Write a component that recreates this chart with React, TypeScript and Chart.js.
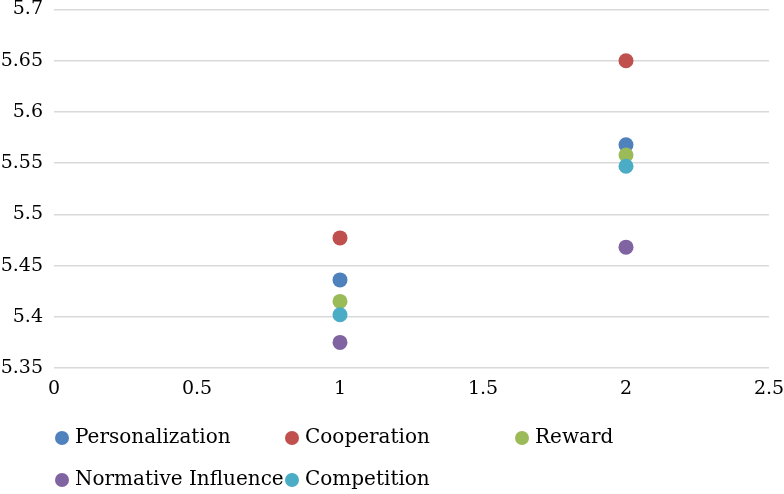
import React, { useEffect, useRef } from "react";
import { Chart, registerables } from "chart.js";

Chart.register(...registerables);

const seriesNames = ["Personalization", "Cooperation", "Reward", "Normative Influence", "Competition"];
const seriesColors = ["#4F81BD", "#C0504D", "#9BBB59", "#8064A2", "#4BACC6"];
const xValues = [1, 2];
const personalization = [5.436, 5.568];
const cooperation = [5.477, 5.65];
const reward = [5.415, 5.558];
const normativeInfluence = [5.375, 5.468];
const competition = [5.402, 5.547];
const seriesValues = [personalization, cooperation, reward, normativeInfluence, competition];

const FONT = "'DejaVu Serif', 'Liberation Serif', serif";

const legendPlugin = {
  id: "gridLegend",
  afterDraw(chart: any) {
    const ctx = chart.ctx;
    const area = chart.chartArea;
    ctx.save();
    ctx.font = `20px ${FONT}`;
    ctx.textBaseline = "middle";
    ctx.textAlign = "left";
    seriesNames.forEach((name, i) => {
      const col = i % 3;
      const row = Math.floor(i / 3);
      const cx = area.left + 8 + col * 230;
      const cy = area.bottom + 70 + row * 42;
      ctx.beginPath();
      ctx.fillStyle = seriesColors[i];
      ctx.arc(cx, cy, 7, 0, Math.PI * 2);
      ctx.fill();
      ctx.fillStyle = "#000000";
      ctx.fillText(name, cx + 13, cy);
    });
    ctx.restore();
  },
};

export default function App() {
  const canvasRef = useRef<HTMLCanvasElement | null>(null);

  useEffect(() => {
    const canvas = canvasRef.current;
    if (!canvas) return;
    const chart = new Chart(canvas, {
      type: "scatter",
      data: {
        datasets: seriesNames.map((name, i) => ({
          label: name,
          data: xValues.map((x, j) => ({ x, y: seriesValues[i][j] })),
          backgroundColor: seriesColors[i],
          borderColor: seriesColors[i],
          borderWidth: 0,
          pointRadius: 7.5,
          pointHoverRadius: 7.5,
          order: seriesNames.length - i,
        })),
      },
      options: {
        animation: false,
        responsive: false,
        maintainAspectRatio: false,
        layout: { padding: { top: 9.5, right: 15, bottom: 96, left: 0 } },
        plugins: {
          legend: { display: false },
          tooltip: { enabled: false },
        },
        scales: {
          x: {
            type: "linear",
            min: 0,
            max: 2.5,
            ticks: {
              stepSize: 0.5,
              padding: 10,
              color: "#000000",
              font: { family: FONT, size: 19 },
              callback: (v: any) => String(Number(Number(v).toFixed(2))),
            },
            grid: { display: false, drawTicks: false },
            border: { display: false },
            afterFit: (scale: any) => {
              scale.height = 30;
              scale.paddingLeft = 0;
              scale.paddingRight = 0;
            },
          },
          y: {
            type: "linear",
            min: 5.35,
            max: 5.7,
            ticks: {
              stepSize: 0.05,
              padding: 11,
              color: "#000000",
              font: { family: FONT, size: 19 },
              callback: (v: any) => String(Number(Number(v).toFixed(2))),
            },
            grid: { color: "#D9D9D9", lineWidth: 1.5, drawTicks: false },
            border: { display: false },
            afterFit: (scale: any) => {
              scale.width = 54;
              scale.paddingTop = 0;
              scale.paddingBottom = 0;
            },
          },
        },
      },
      plugins: [legendPlugin],
    });
    return () => chart.destroy();
  }, []);

  return (
    <div style={{ position: "fixed", left: 0, top: 0, width: 784, height: 494, background: "#ffffff" }}>
      <canvas ref={canvasRef} width={784} height={494} style={{ width: 784, height: 494, display: "block" }} />
    </div>
  );
}
